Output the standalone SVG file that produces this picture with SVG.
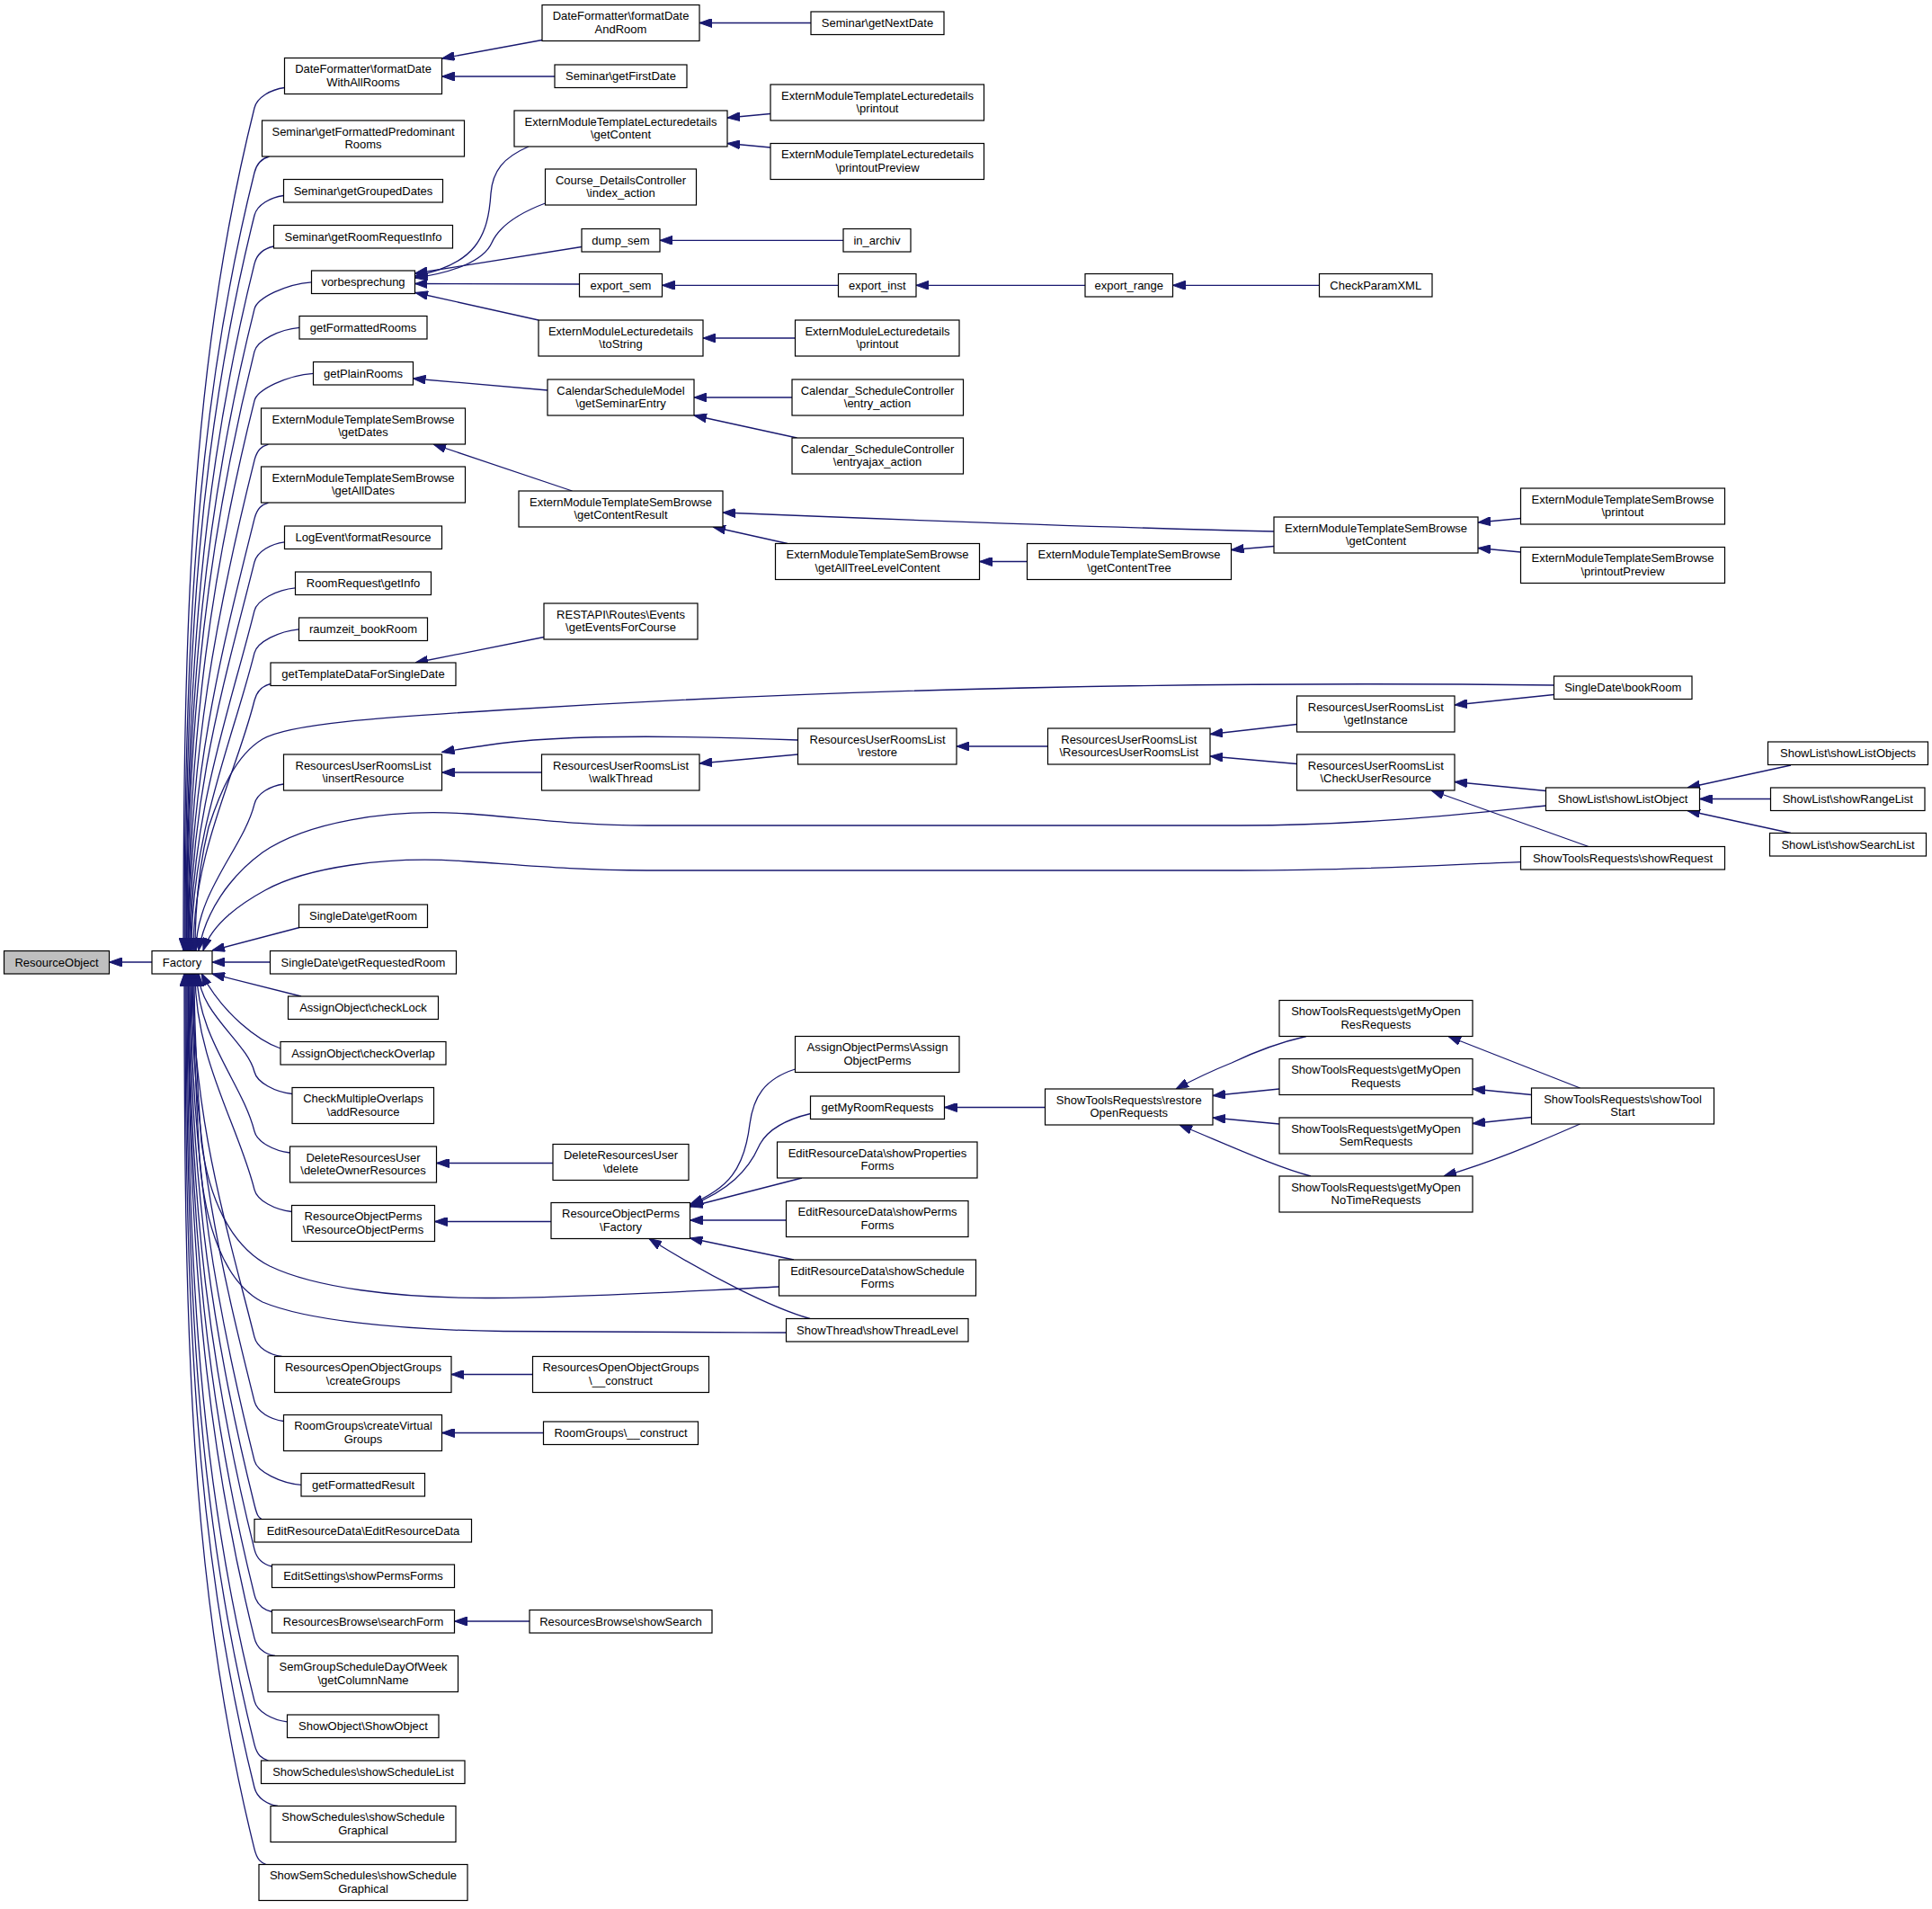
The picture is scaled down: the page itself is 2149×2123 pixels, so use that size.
<svg xmlns="http://www.w3.org/2000/svg" width="2149" height="2123" viewBox="0 0 2149 2123">
<defs>
<style>
.n rect{fill:#fff;stroke:#000;stroke-width:1.2}
.n text{font-family:"Liberation Sans",Arial,sans-serif;font-size:13px;text-anchor:middle;fill:#000}
#edges path{fill:none;stroke:#191970;stroke-width:1.3;marker-end:url(#ah)}
</style>
<marker id="ah" viewBox="0 0 14 10" refX="14" refY="5" markerWidth="14" markerHeight="10" markerUnits="userSpaceOnUse" orient="auto">
<path d="M0,0 L14,5 L0,10 Z" fill="#191970" stroke="#191970" stroke-width="1"/>
</marker>
</defs>
<rect x="0" y="0" width="2149" height="2123" fill="#fff"/>
<g id="edges">
<path d="M169,1070 L121.5,1070"/>
<path d="M316.5,97.5 C301.4,99.5 286,108 283,120 C212.7,401.1 204,682.2 204,1057"/>
<path d="M299.5,174 C292.1,176 286,180 283,192 C218.1,451.5 205,711 205,1057"/>
<path d="M315.5,217.5 C300.9,219.5 286,227.5 283,239.5 C221.7,484.8 206,730 206,1057"/>
<path d="M304.5,274 C294.8,276 286,281.4 283,293.4 C225.7,522.5 207,751.6 207,1057"/>
<path d="M346.5,313.8 C317.9,315.8 286,331.6 283,343.6 C229.5,557.6 207.5,771.6 207.5,1057"/>
<path d="M333,364.3 C310.5,366.3 286,378.8 283,390.8 C233,590.6 208,790.5 208,1057"/>
<path d="M348.5,415.3 C319,417.3 286,433.6 283,445.6 C237.1,629 209,812.4 209,1057"/>
<path d="M298.5,494 C291.5,496 286,499.9 283,511.9 C242.1,675.4 209.5,839 209.5,1057"/>
<path d="M298.5,559 C291.5,561 286,564.9 283,576.9 C247,720.9 210,865 210,1057"/>
<path d="M316.5,602.8 C301.4,604.8 286,613.1 283,625.1 C250.6,754.7 211,884.2 211,1057"/>
<path d="M328.5,653.8 C308,655.8 286,667.1 283,679.1 C254.7,792.5 212,905.8 212,1057"/>
<path d="M332.5,699.8 C310.2,701.8 286,714.1 283,726.1 C258.2,825.4 213,924.6 213,1057"/>
<path d="M301,760.5 C292.9,762.5 286,767 283,779 C262.2,862.4 215,945.8 215,1057"/>
<path d="M315.5,872 C300.9,874 286,882.1 283,894.1 C270.8,943 218,991.8 218,1057"/>
<path d="M1728.5,762 C1300,757 900,768 560,789.5 C420,798 320,805 292,822 C262,840 245,880 232,920 C222,960 217,1000 217,1057"/>
<path d="M1719.5,896 C1640,904 1520,918 1380,918 L720,918 C640,918 580,909 520,905 C430,899 340,915 292,948 C255,975 228,1015 221,1057"/>
<path d="M1691.5,958.7 C1620,961 1520,968 1380,968 L720,968 C640,968 580,962 520,958 C430,951 340,965 295,990 C262,1008 235,1030 226,1057"/>
<path d="M333,1031.5 L236,1057"/>
<path d="M300.5,1070 L236,1070"/>
<path d="M335,1108 L236,1083"/>
<path d="M312,1166 C288,1158 248,1128 224,1082.5"/>
<path d="M325,1216.5 C306.1,1214.5 286,1204 283,1192 C274.8,1159.2 221,1126.3 221,1082.5"/>
<path d="M322.5,1282 C304.7,1280 286,1270.1 283,1258.1 C269.8,1205.4 219,1152.7 219,1082.5"/>
<path d="M324.5,1347.5 C305.8,1345.5 286,1335.1 283,1323.1 C265,1250.9 217,1178.7 217,1082.5"/>
<path d="M866.5,1431 C760,1436 640,1443.5 540,1443.5 C440,1443.5 350,1432 300,1408 C255,1385 232,1330 224,1270 C219,1200 216,1140 216,1082.5"/>
<path d="M874.5,1482 C760,1481.5 640,1481 560,1480.5 C440,1479 340,1468 292,1448 C248,1425 228,1360 222,1290 C217,1200 215,1140 215,1082.5"/>
<path d="M313.5,1508.5 C299.8,1506.5 286,1498.9 283,1486.9 C252.7,1365.6 214,1244.3 214,1082.5"/>
<path d="M315.5,1580.5 C300.9,1578.5 286,1570.4 283,1558.4 C247.3,1415.6 213,1272.9 213,1082.5"/>
<path d="M335,1651.3 C311.6,1649.3 286,1636.3 283,1624.3 C242.4,1461.8 212,1299.2 212,1082.5"/>
<path d="M291,1689.5 C287.4,1687.5 286,1685.5 283,1673.5 C238.7,1496.2 211,1318.9 211,1082.5"/>
<path d="M302.5,1742 C293.7,1740 286,1735.1 283,1723.1 C235,1530.9 210,1338.7 210,1082.5"/>
<path d="M302.5,1792.5 C293.7,1790.5 286,1785.6 283,1773.6 C231.2,1566.3 209.5,1358.9 209.5,1082.5"/>
<path d="M306,1841.5 C295.7,1839.5 286,1833.8 283,1821.8 C227.6,1600 209,1378.2 209,1082.5"/>
<path d="M319.5,1914.8 C303.1,1912.8 286,1903.6 283,1891.6 C222.3,1648.9 208,1406.1 208,1082.5"/>
<path d="M298.5,1958 C291.5,1956 286,1952.1 283,1940.1 C218.7,1682.8 207,1425.5 207,1082.5"/>
<path d="M309,2008.5 C297.3,2006.5 286,2000 283,1988 C215.1,1716.4 206,1444.7 206,1082.5"/>
<path d="M296,2073.5 C290.2,2071.5 286,2068.3 283,2056.3 C210,1764.2 205,1472 205,1082.5"/>
<path d="M603,44.5 L491.5,65"/>
<path d="M617,85 L491.5,85"/>
<path d="M902,25.5 L778,25.5"/>
<path d="M857,126.5 L809,131"/>
<path d="M857,164 L809,159.5"/>
<path d="M588,163 C560,175 548,190 546,215 C543,262 530,294 461.5,307"/>
<path d="M606.5,226 C580,236 556,250 547,270 C538,290 505,303 461.5,309"/>
<path d="M647,274.5 L461.5,304"/>
<path d="M644.5,316 L461.5,315.5"/>
<path d="M599,356 L462,325.5"/>
<path d="M938,267.3 L734,267.3"/>
<path d="M932.5,317.3 L736.5,317.3"/>
<path d="M1207,317.3 L1019,317.3"/>
<path d="M1467.5,317.3 L1304.5,317.3"/>
<path d="M884.5,376 L782,376"/>
<path d="M609,434 L459.5,421"/>
<path d="M881,442 L772,442"/>
<path d="M886.5,487 L772,462"/>
<path d="M636.5,546 L482,494"/>
<path d="M1417,591 C1200,586 1000,578 804,570"/>
<path d="M876,604.5 L793,586"/>
<path d="M1142.5,624.5 L1089.5,624.5"/>
<path d="M1417,607.5 L1369.5,611.5"/>
<path d="M1691.5,576.5 L1644,581"/>
<path d="M1691.5,614 L1644,609.5"/>
<path d="M605,708.5 L462,737"/>
<path d="M1728.5,772.5 L1618,784"/>
<path d="M1165.5,830 L1064,830"/>
<path d="M1442.5,805.5 L1346,816.5"/>
<path d="M1442.5,849.5 L1346,841"/>
<path d="M887.5,839 L778,849"/>
<path d="M887.5,823 C760,818 620,816 540,829 C520,832 505,834 491.5,836.5"/>
<path d="M602.5,859 L491.5,859"/>
<path d="M1719.5,879.5 L1618,869.5"/>
<path d="M1767,941.5 L1592,879"/>
<path d="M1992,851 L1877,876"/>
<path d="M1969.5,888.5 L1890.5,888.5"/>
<path d="M1992,926.5 L1877,901.5"/>
<path d="M1162.5,1231.5 L1050.5,1231.5"/>
<path d="M1453,1152.5 C1420,1160 1395,1170 1370,1182 C1345,1192 1325,1202 1308,1211"/>
<path d="M1423,1211 L1349,1218.5"/>
<path d="M1423,1250 L1349,1243"/>
<path d="M1458,1308 C1420,1298 1370,1275 1312,1251"/>
<path d="M1757.5,1210 L1611,1152.5"/>
<path d="M1703.5,1217.5 L1638,1211"/>
<path d="M1703.5,1242.5 L1638,1249.5"/>
<path d="M1757.5,1250 C1700,1275 1660,1292 1606,1308"/>
<path d="M884.5,1189 C850,1200 838,1220 834,1250 C828,1300 810,1322 768,1339"/>
<path d="M901.5,1238.5 C870,1246 852,1258 844,1275 C832,1302 810,1324 768,1340.5"/>
<path d="M892,1310 L767.5,1342"/>
<path d="M874.5,1357 L767.5,1357"/>
<path d="M883,1401 L767.5,1377"/>
<path d="M901,1466.5 C860,1455 790,1420 722,1377.5"/>
<path d="M615,1293.5 L485.5,1293.5"/>
<path d="M613,1358.5 L483.5,1358.5"/>
<path d="M592.5,1528.5 L502,1528.5"/>
<path d="M604.5,1593.5 L491.5,1593.5"/>
<path d="M589,1803 L505.5,1803"/>
</g>
<g id="nodes">
<g id="n_ResourceObject" class="n"><rect x="4.5" y="1057.5" width="117" height="25.5" style="fill:#bfbfbf"/><text x="63" y="1074.5">ResourceObject</text></g>
<g id="n_Factory" class="n"><rect x="169" y="1057.5" width="67" height="25.5"/><text x="202.5" y="1074.5">Factory</text></g>

<g id="n_formatDateWithAllRooms" class="n"><rect x="316.5" y="64.5" width="175" height="40"/><text x="404" y="81">DateFormatter\formatDate</text><text x="404" y="95.5">WithAllRooms</text></g>
<g id="n_getFormattedPredominantRooms" class="n"><rect x="291.5" y="134" width="225" height="40"/><text x="404" y="150.5">Seminar\getFormattedPredominant</text><text x="404" y="165">Rooms</text></g>
<g id="n_getGroupedDates" class="n"><rect x="315.5" y="199.5" width="177" height="25.5"/><text x="404" y="216.5">Seminar\getGroupedDates</text></g>
<g id="n_getRoomRequestInfo" class="n"><rect x="304.5" y="250.5" width="199" height="25.5"/><text x="404" y="267.5">Seminar\getRoomRequestInfo</text></g>
<g id="n_vorbesprechung" class="n"><rect x="346.5" y="301" width="115" height="25.5"/><text x="404" y="318">vorbesprechung</text></g>
<g id="n_getFormattedRooms" class="n"><rect x="333" y="351.5" width="142" height="25.5"/><text x="404" y="368.5">getFormattedRooms</text></g>
<g id="n_getPlainRooms" class="n"><rect x="348.5" y="402.5" width="111" height="25.5"/><text x="404" y="419.5">getPlainRooms</text></g>
<g id="n_SemBrowse_getDates" class="n"><rect x="290.5" y="454" width="227" height="40"/><text x="404" y="470.5">ExternModuleTemplateSemBrowse</text><text x="404" y="485">\getDates</text></g>
<g id="n_SemBrowse_getAllDates" class="n"><rect x="290.5" y="519" width="227" height="40"/><text x="404" y="535.5">ExternModuleTemplateSemBrowse</text><text x="404" y="550">\getAllDates</text></g>
<g id="n_formatResource" class="n"><rect x="316.5" y="585" width="175" height="25.5"/><text x="404" y="602">LogEvent\formatResource</text></g>
<g id="n_RoomRequest_getInfo" class="n"><rect x="328.5" y="636" width="151" height="25.5"/><text x="404" y="653">RoomRequest\getInfo</text></g>
<g id="n_raumzeit_bookRoom" class="n"><rect x="332.5" y="687" width="143" height="25.5"/><text x="404" y="704">raumzeit_bookRoom</text></g>
<g id="n_getTemplateDataForSingleDate" class="n"><rect x="301" y="737" width="206" height="25.5"/><text x="404" y="754">getTemplateDataForSingleDate</text></g>
<g id="n_insertResource" class="n"><rect x="315.5" y="839" width="176" height="40"/><text x="404" y="855.5">ResourcesUserRoomsList</text><text x="404" y="870">\insertResource</text></g>
<g id="n_SingleDate_getRoom" class="n"><rect x="332.5" y="1006" width="143" height="25.5"/><text x="404" y="1023">SingleDate\getRoom</text></g>
<g id="n_getRequestedRoom" class="n"><rect x="300.5" y="1057.5" width="207" height="25.5"/><text x="404" y="1074.5">SingleDate\getRequestedRoom</text></g>
<g id="n_checkLock" class="n"><rect x="320.5" y="1108" width="167" height="25.5"/><text x="404" y="1125">AssignObject\checkLock</text></g>
<g id="n_checkOverlap" class="n"><rect x="312" y="1158.5" width="184" height="25.5"/><text x="404" y="1175.5">AssignObject\checkOverlap</text></g>
<g id="n_addResource" class="n"><rect x="325" y="1209.5" width="157.5" height="40"/><text x="404" y="1226">CheckMultipleOverlaps</text><text x="404" y="1240.5">\addResource</text></g>
<g id="n_deleteOwnerResources" class="n"><rect x="322.5" y="1275" width="163" height="40"/><text x="404" y="1291.5">DeleteResourcesUser</text><text x="404" y="1306">\deleteOwnerResources</text></g>
<g id="n_ResourceObjectPerms_ctor" class="n"><rect x="324.5" y="1340.5" width="159" height="40"/><text x="404" y="1357">ResourceObjectPerms</text><text x="404" y="1371.5">\ResourceObjectPerms</text></g>
<g id="n_createGroups" class="n"><rect x="305.5" y="1508.5" width="196.5" height="40"/><text x="404" y="1525">ResourcesOpenObjectGroups</text><text x="404" y="1539.5">\createGroups</text></g>
<g id="n_createVirtualGroups" class="n"><rect x="315.5" y="1573.5" width="176" height="40"/><text x="404" y="1590">RoomGroups\createVirtual</text><text x="404" y="1604.5">Groups</text></g>
<g id="n_getFormattedResult" class="n"><rect x="335" y="1638.5" width="137.5" height="25.5"/><text x="404" y="1655.5">getFormattedResult</text></g>
<g id="n_EditResourceData_ctor" class="n"><rect x="283" y="1689.5" width="241.5" height="25.5"/><text x="404" y="1706.5">EditResourceData\EditResourceData</text></g>
<g id="n_EditSettings_showPermsForms" class="n"><rect x="302.5" y="1740" width="203" height="25.5"/><text x="404" y="1757">EditSettings\showPermsForms</text></g>
<g id="n_searchForm" class="n"><rect x="302.5" y="1790.5" width="203" height="25.5"/><text x="404" y="1807.5">ResourcesBrowse\searchForm</text></g>
<g id="n_getColumnName" class="n"><rect x="298" y="1841.5" width="211.5" height="40"/><text x="404" y="1858">SemGroupScheduleDayOfWeek</text><text x="404" y="1872.5">\getColumnName</text></g>
<g id="n_ShowObject" class="n"><rect x="319.5" y="1907" width="168.5" height="25.5"/><text x="404" y="1924">ShowObject\ShowObject</text></g>
<g id="n_showScheduleList" class="n"><rect x="290.5" y="1958" width="226.5" height="25.5"/><text x="404" y="1975">ShowSchedules\showScheduleList</text></g>
<g id="n_ShowSchedules_graphical" class="n"><rect x="301" y="2008.5" width="206" height="40"/><text x="404" y="2025">ShowSchedules\showSchedule</text><text x="404" y="2039.5">Graphical</text></g>
<g id="n_ShowSemSchedules_graphical" class="n"><rect x="288" y="2073.5" width="232" height="40"/><text x="404" y="2090">ShowSemSchedules\showSchedule</text><text x="404" y="2104.5">Graphical</text></g>

<g id="n_formatDateAndRoom" class="n"><rect x="603" y="5.5" width="175" height="40"/><text x="690.5" y="22">DateFormatter\formatDate</text><text x="690.5" y="36.5">AndRoom</text></g>
<g id="n_getFirstDate" class="n"><rect x="617" y="72" width="147" height="25.5"/><text x="690.5" y="89">Seminar\getFirstDate</text></g>
<g id="n_Lecturedetails_getContent" class="n"><rect x="572" y="123" width="237" height="40"/><text x="690.5" y="139.5">ExternModuleTemplateLecturedetails</text><text x="690.5" y="154">\getContent</text></g>
<g id="n_index_action" class="n"><rect x="606.5" y="188" width="168" height="40"/><text x="690.5" y="204.5">Course_DetailsController</text><text x="690.5" y="219">\index_action</text></g>
<g id="n_dump_sem" class="n"><rect x="647" y="254.5" width="87" height="25.5"/><text x="690.5" y="271.5">dump_sem</text></g>
<g id="n_export_sem" class="n"><rect x="644.5" y="304.5" width="92" height="25.5"/><text x="690.5" y="321.5">export_sem</text></g>
<g id="n_toString" class="n"><rect x="599" y="356" width="183" height="40"/><text x="690.5" y="372.5">ExternModuleLecturedetails</text><text x="690.5" y="387">\toString</text></g>
<g id="n_getSeminarEntry" class="n"><rect x="609" y="422" width="163" height="40"/><text x="690.5" y="438.5">CalendarScheduleModel</text><text x="690.5" y="453">\getSeminarEntry</text></g>
<g id="n_getContentResult" class="n"><rect x="577" y="546" width="227" height="40"/><text x="690.5" y="562.5">ExternModuleTemplateSemBrowse</text><text x="690.5" y="577">\getContentResult</text></g>
<g id="n_getEventsForCourse" class="n"><rect x="605" y="671" width="171" height="40"/><text x="690.5" y="687.5">RESTAPI\Routes\Events</text><text x="690.5" y="702">\getEventsForCourse</text></g>
<g id="n_walkThread" class="n"><rect x="602.5" y="839" width="175.5" height="40"/><text x="690.5" y="855.5">ResourcesUserRoomsList</text><text x="690.5" y="870">\walkThread</text></g>
<g id="n_DeleteResourcesUser_delete" class="n"><rect x="615" y="1272.5" width="151" height="40"/><text x="690.5" y="1289">DeleteResourcesUser</text><text x="690.5" y="1303.5">\delete</text></g>
<g id="n_ResourceObjectPerms_Factory" class="n"><rect x="613" y="1337.5" width="154.5" height="40"/><text x="690.5" y="1354">ResourceObjectPerms</text><text x="690.5" y="1368.5">\Factory</text></g>
<g id="n_OpenObjectGroups_construct" class="n"><rect x="592.5" y="1508.5" width="196" height="40"/><text x="690.5" y="1525">ResourcesOpenObjectGroups</text><text x="690.5" y="1539.5">\__construct</text></g>
<g id="n_RoomGroups_construct" class="n"><rect x="604.5" y="1581" width="172" height="25.5"/><text x="690.5" y="1598">RoomGroups\__construct</text></g>
<g id="n_showSearch" class="n"><rect x="589" y="1790.5" width="203" height="25.5"/><text x="690.5" y="1807.5">ResourcesBrowse\showSearch</text></g>

<g id="n_getNextDate" class="n"><rect x="902" y="13" width="148" height="25.5"/><text x="976" y="30">Seminar\getNextDate</text></g>
<g id="n_Lecturedetails_printout" class="n"><rect x="857" y="94" width="237.5" height="40"/><text x="976" y="110.5">ExternModuleTemplateLecturedetails</text><text x="976" y="125">\printout</text></g>
<g id="n_Lecturedetails_printoutPreview" class="n"><rect x="857" y="159.5" width="237.5" height="40"/><text x="976" y="176">ExternModuleTemplateLecturedetails</text><text x="976" y="190.5">\printoutPreview</text></g>
<g id="n_in_archiv" class="n"><rect x="938" y="254.5" width="75" height="25.5"/><text x="975.5" y="271.5">in_archiv</text></g>
<g id="n_export_inst" class="n"><rect x="932.5" y="304.5" width="86.5" height="25.5"/><text x="975.75" y="321.5">export_inst</text></g>
<g id="n_ExternModuleLecturedetails_printout" class="n"><rect x="884.5" y="356" width="182.5" height="40"/><text x="976" y="372.5">ExternModuleLecturedetails</text><text x="976" y="387">\printout</text></g>
<g id="n_entry_action" class="n"><rect x="881" y="422" width="190.5" height="40"/><text x="976" y="438.5">Calendar_ScheduleController</text><text x="976" y="453">\entry_action</text></g>
<g id="n_entryajax_action" class="n"><rect x="881" y="487" width="190.5" height="40"/><text x="976" y="503.5">Calendar_ScheduleController</text><text x="976" y="518">\entryajax_action</text></g>
<g id="n_getAllTreeLevelContent" class="n"><rect x="862.5" y="604.5" width="227" height="40"/><text x="976" y="621">ExternModuleTemplateSemBrowse</text><text x="976" y="635.5">\getAllTreeLevelContent</text></g>
<g id="n_restore" class="n"><rect x="887.5" y="810" width="176.5" height="40"/><text x="976" y="826.5">ResourcesUserRoomsList</text><text x="976" y="841">\restore</text></g>
<g id="n_AssignObjectPerms" class="n"><rect x="884.5" y="1152.5" width="182.5" height="40"/><text x="976" y="1169">AssignObjectPerms\Assign</text><text x="976" y="1183.5">ObjectPerms</text></g>
<g id="n_getMyRoomRequests" class="n"><rect x="901.5" y="1219" width="149" height="25.5"/><text x="976" y="1236">getMyRoomRequests</text></g>
<g id="n_showPropertiesForms" class="n"><rect x="864.5" y="1270" width="222.5" height="40"/><text x="976" y="1286.5">EditResourceData\showProperties</text><text x="976" y="1301">Forms</text></g>
<g id="n_showPermsForms" class="n"><rect x="874.5" y="1335.5" width="202.5" height="40"/><text x="976" y="1352">EditResourceData\showPerms</text><text x="976" y="1366.5">Forms</text></g>
<g id="n_showScheduleForms" class="n"><rect x="866.5" y="1401" width="219" height="40"/><text x="976" y="1417.5">EditResourceData\showSchedule</text><text x="976" y="1432">Forms</text></g>
<g id="n_showThreadLevel" class="n"><rect x="874.5" y="1466.5" width="202.5" height="25.5"/><text x="976" y="1483.5">ShowThread\showThreadLevel</text></g>

<g id="n_export_range" class="n"><rect x="1207" y="304.5" width="97.5" height="25.5"/><text x="1255.75" y="321.5">export_range</text></g>
<g id="n_getContentTree" class="n"><rect x="1142.5" y="604.5" width="227" height="40"/><text x="1256" y="621">ExternModuleTemplateSemBrowse</text><text x="1256" y="635.5">\getContentTree</text></g>
<g id="n_ResourcesUserRoomsList_ctor" class="n"><rect x="1165.5" y="810" width="180.5" height="40"/><text x="1255.75" y="826.5">ResourcesUserRoomsList</text><text x="1255.75" y="841">\ResourcesUserRoomsList</text></g>
<g id="n_restoreOpenRequests" class="n"><rect x="1162.5" y="1211" width="186.5" height="40"/><text x="1255.75" y="1227.5">ShowToolsRequests\restore</text><text x="1255.75" y="1242">OpenRequests</text></g>

<g id="n_CheckParamXML" class="n"><rect x="1467.5" y="304.5" width="125.5" height="25.5"/><text x="1530.25" y="321.5">CheckParamXML</text></g>
<g id="n_SemBrowse_getContent" class="n"><rect x="1417" y="575" width="227" height="40"/><text x="1530.5" y="591.5">ExternModuleTemplateSemBrowse</text><text x="1530.5" y="606">\getContent</text></g>
<g id="n_getInstance" class="n"><rect x="1442.5" y="774" width="175.5" height="40"/><text x="1530.25" y="790.5">ResourcesUserRoomsList</text><text x="1530.25" y="805">\getInstance</text></g>
<g id="n_CheckUserResource" class="n"><rect x="1442.5" y="839" width="175.5" height="40"/><text x="1530.25" y="855.5">ResourcesUserRoomsList</text><text x="1530.25" y="870">\CheckUserResource</text></g>
<g id="n_getMyOpenResRequests" class="n"><rect x="1423" y="1112.5" width="215" height="40"/><text x="1530.5" y="1129">ShowToolsRequests\getMyOpen</text><text x="1530.5" y="1143.5">ResRequests</text></g>
<g id="n_getMyOpenRequests" class="n"><rect x="1423" y="1177.5" width="215" height="40"/><text x="1530.5" y="1194">ShowToolsRequests\getMyOpen</text><text x="1530.5" y="1208.5">Requests</text></g>
<g id="n_getMyOpenSemRequests" class="n"><rect x="1423" y="1243" width="215" height="40"/><text x="1530.5" y="1259.5">ShowToolsRequests\getMyOpen</text><text x="1530.5" y="1274">SemRequests</text></g>
<g id="n_getMyOpenNoTimeRequests" class="n"><rect x="1423" y="1308" width="215" height="40"/><text x="1530.5" y="1324.5">ShowToolsRequests\getMyOpen</text><text x="1530.5" y="1339">NoTimeRequests</text></g>

<g id="n_SemBrowse_printout" class="n"><rect x="1691.5" y="543" width="227" height="40"/><text x="1805" y="559.5">ExternModuleTemplateSemBrowse</text><text x="1805" y="574">\printout</text></g>
<g id="n_SemBrowse_printoutPreview" class="n"><rect x="1691.5" y="608.5" width="227" height="40"/><text x="1805" y="625">ExternModuleTemplateSemBrowse</text><text x="1805" y="639.5">\printoutPreview</text></g>
<g id="n_bookRoom" class="n"><rect x="1728.5" y="752" width="153.5" height="25.5"/><text x="1805.25" y="769">SingleDate\bookRoom</text></g>
<g id="n_showListObject" class="n"><rect x="1719.5" y="876" width="171" height="25.5"/><text x="1805" y="893">ShowList\showListObject</text></g>
<g id="n_showRequest" class="n"><rect x="1691.5" y="941.5" width="227" height="25.5"/><text x="1805" y="958.5">ShowToolsRequests\showRequest</text></g>
<g id="n_showToolStart" class="n"><rect x="1703.5" y="1210" width="203" height="40"/><text x="1805" y="1226.5">ShowToolsRequests\showTool</text><text x="1805" y="1241">Start</text></g>

<g id="n_showListObjects" class="n"><rect x="1966.5" y="825" width="178" height="25.5"/><text x="2055.5" y="842">ShowList\showListObjects</text></g>
<g id="n_showRangeList" class="n"><rect x="1969.5" y="876" width="171.5" height="25.5"/><text x="2055.25" y="893">ShowList\showRangeList</text></g>
<g id="n_showSearchList" class="n"><rect x="1968.5" y="926.5" width="174" height="25.5"/><text x="2055.5" y="943.5">ShowList\showSearchList</text></g>
</g>
</svg>
